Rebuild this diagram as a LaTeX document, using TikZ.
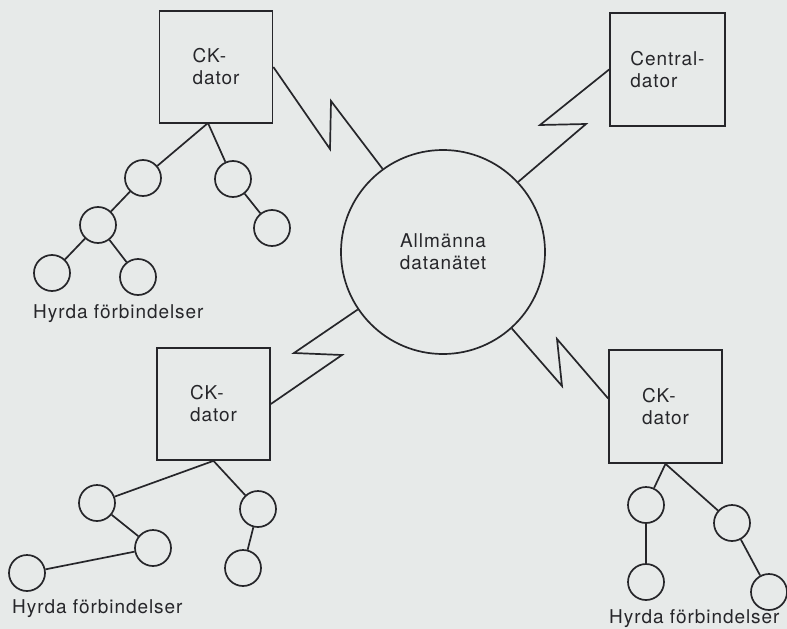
\documentclass[tikz,border=0pt]{standalone}
\usepackage{fontspec}
\setmainfont{TeX Gyre Heros}[LetterSpace=5]
\usetikzlibrary{calc}
\definecolor{paper}{RGB}{231,234,233}
\definecolor{ink}{RGB}{38,38,42}
\begin{document}
\begin{tikzpicture}[x=1pt,y=-1pt,
  every node/.style={font=\fontsize{19}{22}\selectfont, text=ink},
  computer/.style={draw=ink, line width=1.7pt, minimum width=113pt, minimum height=112pt, align=left, inner sep=0pt},
  netcloud/.style={draw=ink, line width=1.7pt, circle, minimum size=204pt, align=center, inner sep=0pt},
  site/.style={draw=ink, line width=1.7pt, circle, minimum size=36pt, inner sep=0pt},
  link/.style={draw=ink, line width=1.7pt, line join=miter, miter limit=20},
  caption/.style={anchor=base west, inner sep=0pt}]

% paper
\fill[paper] (0,0) rectangle (787,629);
\useasboundingbox (0,0) rectangle (787,629);

% computers and the public data network
\node[computer] (ck1) at (216,67) {CK-\\dator};
\node[computer, minimum width=115pt, minimum height=113pt] (central) at (667.5,69.5) {Central-\\dator};
\node[computer] (ck3) at (213.5,404) {CK-\\dator};
\node[computer, minimum height=113pt] (ck4) at (665.5,406.5) {CK-\\dator};
\node[netcloud] (net) at (443,252) {Allmänna\\datanätet};

% zig-zag (lightning) links to the network
\coordinate (z1a) at (330,149);
\coordinate (z1b) at (331,101);
\draw[link] (ck1.east) -- (z1a) -- (z1b) -- (net.126.6);

\coordinate (z2a) at (540,125);
\coordinate (z2b) at (586,124);
\draw[link] (central.west) -- (z2a) -- (z2b) -- (net.43);

\coordinate (z3a) at (294,353);
\coordinate (z3b) at (342,355);
\draw[link] (net.214.5) -- (z3a) -- (z3b) -- (ck3.east);

\coordinate (z4a) at (562,386);
\coordinate (z4b) at (557,339);
\coordinate (ck4in) at ($(ck4.north west)!0.43!(ck4.south west)$);
\draw[link] (net.312) -- (z4a) -- (z4b) -- (ck4in);

% leased lines, upper left
\coordinate (j1) at (208,123);
\node[site] (a1) at (143,178) {};
\node[site] (a2) at (233,179) {};
\node[site] (a3) at (98,225) {};
\node[site] (a4) at (52,273) {};
\node[site] (a5) at (138,277) {};
\node[site] (a6) at (272,228) {};
\draw[link] (j1) -- (a1);
\draw[link] (j1) -- (a2);
\draw[link] (a1) -- (a3);
\draw[link] (a3) -- (a4);
\draw[link] (a3) -- (a5);
\draw[link] (a2) -- (a6);
\node[caption] (cap1) at (33,318) {Hyrda förbindelser};

% leased lines, lower left
\node[site] (b1) at (97,503) {};
\node[site] (b2) at (258,509) {};
\node[site] (b3) at (153,548) {};
\node[site] (b4) at (27,573) {};
\node[site] (b5) at (243,568) {};
\draw[link] (ck3.south) -- (b1);
\draw[link] (ck3.south) -- (b2);
\draw[link] (b1) -- (b3);
\draw[link] (b3) -- (b4);
\draw[link] (b2) -- (b5);
\node[caption] (cap2) at (12,613) {Hyrda förbindelser};

% leased lines, lower right
\node[caption] (cap3) at (609,623) {Hyrda förbindelser};
\node[site] (c1) at (646,505) {};
\node[site] (c2) at (732,523) {};
\node[site] (c3) at (646,582) {};
\node[site] (c4) at (769,592) {};
\draw[link] (ck4.south) -- (c1);
\draw[link] (ck4.south) -- (c2);
\draw[link] (c1) -- (c3);
\draw[link] (c2) -- (c4);
\end{tikzpicture}
\end{document}
